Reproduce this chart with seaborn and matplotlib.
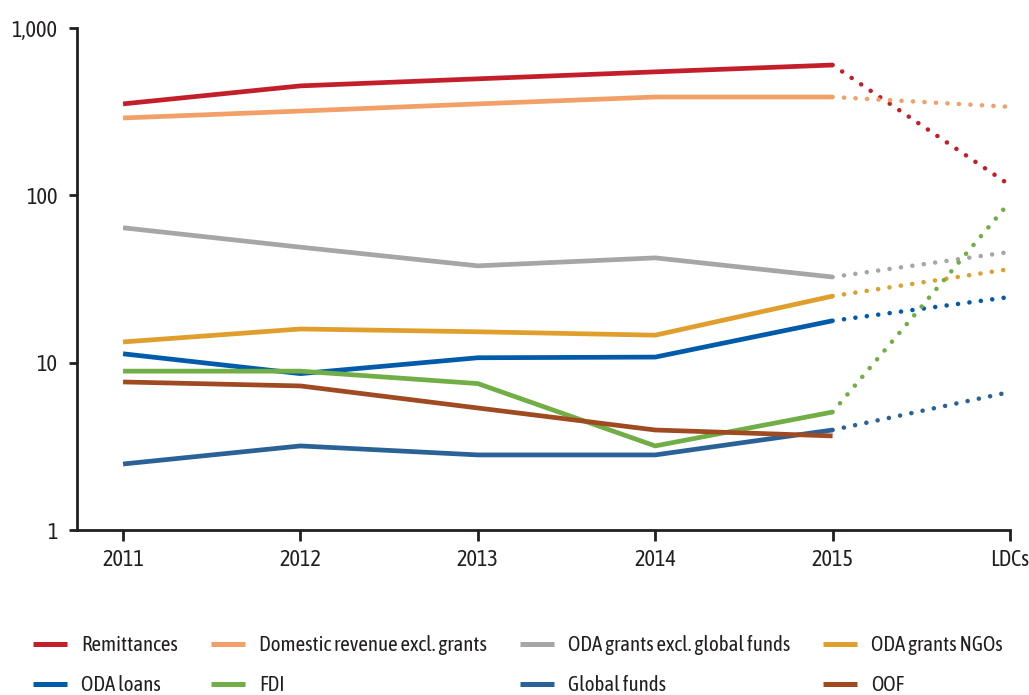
import matplotlib
matplotlib.use("Agg")
import matplotlib.pyplot as plt
import matplotlib.ticker as mticker
from matplotlib.lines import Line2D
import seaborn as sns
import pandas as pd

# Categories along the x axis
years = ["2011", "2012", "2013", "2014", "2015"]
ldc_label = "LDCs"

# Series values for 2011-2015 and the LDC comparison value (None = no comparison)
remittances = [352, 451, 497, 547, 601]
remittances_ldc = 115
domestic_revenue = [290, 319, 352, 387, 387]
domestic_revenue_ldc = 338
oda_grants = [64, 49, 37.9, 42.3, 32.5]
oda_grants_ldc = 45.9
oda_grants_ngos = [13.3, 15.9, 15.3, 14.6, 25.0]
oda_grants_ngos_ldc = 36.3
oda_loans = [11.3, 8.6, 10.7, 10.8, 17.8]
oda_loans_ldc = 24.7
fdi = [8.9, 8.9, 7.5, 3.18, 5.07]
fdi_ldc = 91.5
global_funds = [2.48, 3.18, 2.81, 2.81, 3.96]
global_funds_ldc = 6.68
oof = [7.67, 7.26, 5.36, 3.96, 3.65]
oof_ldc = None

series_names = ["Remittances", "Domestic revenue excl. grants",
                "ODA grants excl. global funds", "ODA grants NGOs",
                "ODA loans", "FDI", "Global funds", "OOF"]
series_values = [remittances, domestic_revenue, oda_grants, oda_grants_ngos,
                 oda_loans, fdi, global_funds, oof]
series_ldc = [remittances_ldc, domestic_revenue_ldc, oda_grants_ldc,
              oda_grants_ngos_ldc, oda_loans_ldc, fdi_ldc, global_funds_ldc, oof_ldc]
colors = ["#c31f2b", "#f2a068", "#a6a6a6", "#e09e2c",
          "#005bab", "#72ae48", "#2a6297", "#a04a22"]

categories = years + [ldc_label]

solid_rows = []
dotted_rows = []
for name, vals, ldc in zip(series_names, series_values, series_ldc):
    for i, v in enumerate(vals):
        solid_rows.append({"series": name, "x": i, "value": v})
    if ldc is not None:
        dotted_rows.append({"series": name, "x": len(vals) - 1, "value": vals[-1]})
        dotted_rows.append({"series": name, "x": len(vals), "value": ldc})
solid = pd.DataFrame(solid_rows)
dotted = pd.DataFrame(dotted_rows)
palette = dict(zip(series_names, colors))

sns.set_style("ticks")
plt.rcParams["font.family"] = ["Asap Condensed", "DejaVu Sans"]

fig = plt.figure(figsize=(10.29, 6.95), dpi=100)
ax = fig.add_axes([0.0748, 0.2374, 0.9067, 0.7223])

sns.lineplot(data=solid, x="x", y="value", hue="series", palette=palette,
             hue_order=series_names, linewidth=3.4, legend=False, ax=ax,
             estimator=None, sort=False)
for line in ax.get_lines():
    line.set_solid_capstyle("butt")

n_solid = len(ax.get_lines())
sns.lineplot(data=dotted, x="x", y="value", hue="series", palette=palette,
             hue_order=[n for n, l in zip(series_names, series_ldc) if l is not None],
             linewidth=3.3, legend=False, ax=ax, estimator=None, sort=False)
for line in ax.get_lines()[n_solid:]:
    line.set_linestyle((0, (0.01, 2.5)))
    line.set_dash_capstyle("round")
    line.set_clip_on(False)

ax.set_yscale("log")
ax.set_ylim(1, 1000)
ax.set_xlim(-0.26, 5)
ax.set_xticks(range(len(categories)))
ax.set_xticklabels(categories)
ax.yaxis.set_major_locator(mticker.FixedLocator([1, 10, 100, 1000]))
ax.yaxis.set_minor_locator(mticker.NullLocator())
ax.yaxis.set_major_formatter(mticker.FuncFormatter(lambda v, p: f"{int(v):,}"))
ax.set_xlabel("")
ax.set_ylabel("")

for side in ["top", "right"]:
    ax.spines[side].set_visible(False)
for side in ["left", "bottom"]:
    ax.spines[side].set_color("#231f20")
    ax.spines[side].set_linewidth(2.0)
ax.tick_params(axis="both", colors="#231f20", labelsize=16, width=2.0)
ax.tick_params(axis="y", length=6, pad=8)
ax.tick_params(axis="x", length=8, pad=6)

# Legend: two rows, four columns, filled row by row
legend_order = [0, 4, 1, 5, 2, 6, 3, 7]
handles = [Line2D([0], [0], color=colors[i], linewidth=3.6, solid_capstyle="butt")
           for i in legend_order]
labels = [series_names[i] for i in legend_order]
fig.legend(handles, labels, ncol=4, frameon=False, loc="upper left",
           bbox_to_anchor=(0.0137, 0.113), fontsize=15, handlelength=1.63,
           handletextpad=0.67, columnspacing=1.6, labelspacing=0.95,
           labelcolor="#231f20")

fig.savefig("out.png", dpi=100)
